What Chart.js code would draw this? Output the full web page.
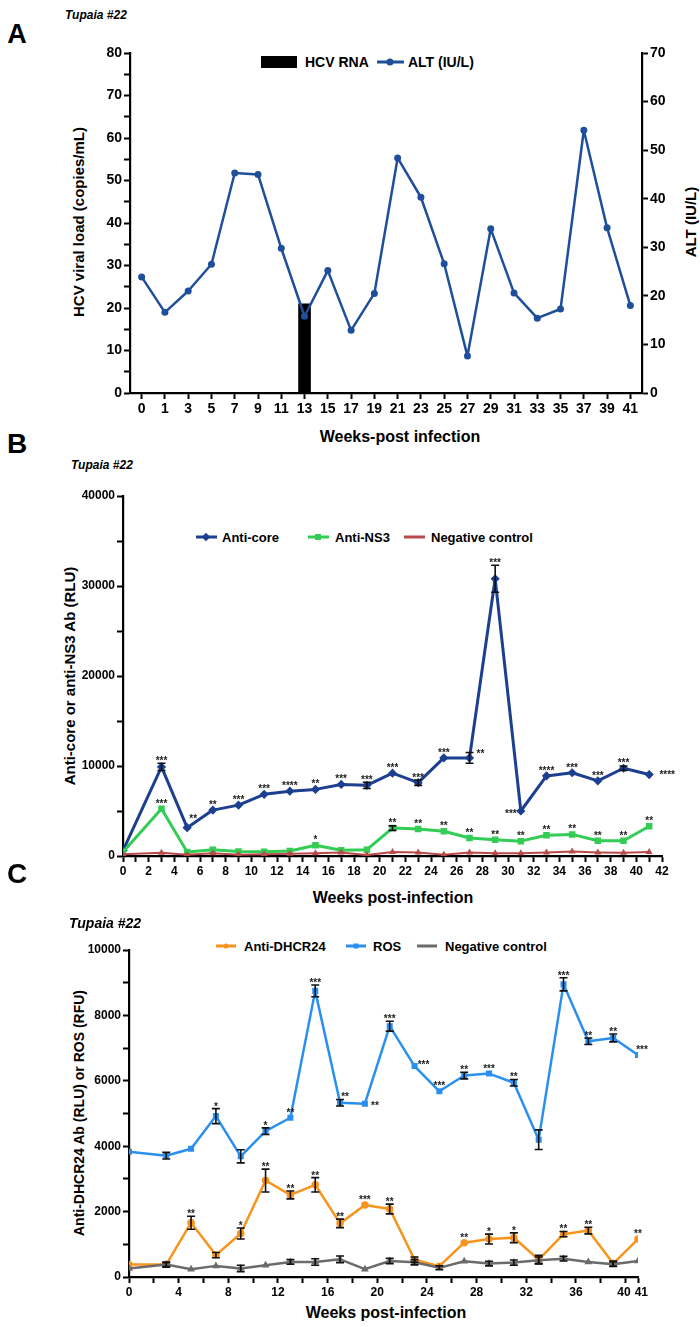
<!DOCTYPE html>
<html><head><meta charset="utf-8">
<script src="https://cdn.jsdelivr.net/npm/chart.js@4.4.0/dist/chart.umd.min.js"></script>
<style>
body{margin:0;background:#fff;width:700px;height:1327px;position:relative;overflow:hidden;font-family:"Liberation Sans",Arial,sans-serif;font-weight:bold;color:#000}
canvas{position:absolute;left:0}
.t{position:absolute;white-space:nowrap;line-height:1}
.c{transform:translate(-50%,-50%)}
.v{transform:translate(-50%,-50%) rotate(-90deg)}
.lt{transform:translateY(-50%)}
.mk{position:absolute;height:3px;transform:translateY(-50%)}
.dot{position:absolute;width:7px;height:7px;border-radius:50%;transform:translate(-50%,-50%)}
.sq{position:absolute;width:6px;height:6px;transform:translate(-50%,-50%)}
</style></head>
<body>
<!-- Panel A -->
<div class="t c" style="left:17px;top:34px;font-size:27px">A</div>
<div class="t lt" style="left:65px;top:15px;font-size:12px;font-style:italic">Tupaia #22</div>
<div class="t" style="left:261px;top:56px;width:36px;height:12px;background:#000"></div>
<div class="t lt" style="left:305px;top:62px;font-size:14px">HCV RNA</div>
<div class="mk" style="left:377px;top:62px;width:27px;background:#1f4f9a"></div>
<div class="dot" style="left:390px;top:62px;background:#1f4f9a"></div>
<div class="t lt" style="left:408px;top:62px;font-size:14px">ALT (IU/L)</div>
<div class="t v" style="left:78px;top:222px;font-size:15px">HCV viral load (copies/mL)</div>
<div class="t v" style="left:690px;top:222px;font-size:15px">ALT (IU/L)</div>
<div class="t c" style="left:400px;top:437px;font-size:16px">Weeks-post infection</div>
<canvas id="cA" width="700" height="420" style="top:0"></canvas>

<!-- Panel B -->
<div class="t c" style="left:17px;top:444px;font-size:28px">B</div>
<div class="t lt" style="left:71px;top:465px;font-size:12px;font-style:italic">Tupaia #22</div>
<div class="mk" style="left:196px;top:537px;width:21px;background:#1c3f8f"></div>
<div class="sq" style="left:206px;top:537px;background:#1c3f8f;transform:translate(-50%,-50%) rotate(45deg)"></div>
<div class="t lt" style="left:222px;top:537px;font-size:13px">Anti-core</div>
<div class="mk" style="left:308px;top:537px;width:21px;background:#33cc55"></div>
<div class="sq" style="left:318px;top:537px;background:#33cc55"></div>
<div class="t lt" style="left:335px;top:537px;font-size:13px">Anti-NS3</div>
<div class="mk" style="left:404px;top:537px;width:21px;background:#b84a4a"></div>
<div class="t lt" style="left:431px;top:537px;font-size:13px">Negative control</div>
<div class="t v" style="left:69px;top:676px;font-size:15px">Anti-core or anti-NS3 Ab (RLU)</div>
<div class="t c" style="left:393px;top:898px;font-size:16px">Weeks post-infection</div>
<canvas id="cB" width="700" height="420" style="top:460px"></canvas>

<!-- Panel C -->
<div class="t c" style="left:17px;top:874px;font-size:28px">C</div>
<div class="t lt" style="left:69px;top:923px;font-size:14px;font-style:italic">Tupaia #22</div>
<div class="mk" style="left:216px;top:946px;width:20px;background:#f7941d"></div>
<div class="dot" style="left:226px;top:946px;background:#f7941d;width:5px;height:5px"></div>
<div class="t lt" style="left:244px;top:946px;font-size:13px">Anti-DHCR24</div>
<div class="mk" style="left:346px;top:946px;width:20px;background:#2b8ff0"></div>
<div class="sq" style="left:356px;top:946px;background:#2b8ff0;width:5px;height:5px"></div>
<div class="t lt" style="left:373px;top:946px;font-size:13px">ROS</div>
<div class="mk" style="left:417px;top:946px;width:20px;background:#6b6b6b"></div>
<div class="t lt" style="left:445px;top:946px;font-size:13px">Negative control</div>
<div class="t v" style="left:79px;top:1113px;font-size:14px">Anti-DHCR24 Ab (RLU) or ROS (RFU)</div>
<div class="t c" style="left:386px;top:1313px;font-size:16px">Weeks post-infection</div>
<canvas id="cC" width="700" height="427" style="top:900px"></canvas>

<script>
// ---------- Panel A data ----------
const weeksA = ['0','1','3','5','7','9','11','13','15','17','19','21','23','25','27','29','31','33','35','37','39','41'];
const hcvRnaA = [null,null,null,null,null,null,null,21,null,null,null,null,null,null,null,null,null,null,null,null,null,null];
const altA = [23.9,16.6,21.0,26.5,45.3,45.0,29.8,15.8,25.2,12.9,20.5,48.4,40.3,26.6,7.6,33.8,20.6,15.4,17.3,54.1,34.0,18.0];

// ---------- Panel B data ----------
const weeksB = [0,3,5,7,9,11,13,15,17,19,21,23,25,27,29,31,33,35,37,39,41];
const antiCore = [600,9900,3150,5100,5650,6850,7200,7400,7950,7850,9200,8150,10900,10900,30800,5000,8900,9250,8350,9750,9050];
const antiCoreErr = [0,400,0,0,0,0,0,0,0,350,0,300,0,600,1500,0,0,0,0,250,0];
const antiCoreSig = ['','***','**','**','***','***','****','**','***','***','***','***','***','**','***','***','****','***','***','***','****'];
const antiNS3 = [450,5250,450,700,500,480,550,1200,630,700,3100,3000,2750,2000,1800,1650,2300,2400,1700,1700,3300];
const antiNS3Err = [0,0,0,0,0,0,0,0,0,0,250,0,0,0,0,0,0,0,0,0,0];
const antiNS3Sig = ['','***','','','','','','*','','','**','**','**','**','**','**','**','**','**','**','**'];
const negB = [200,350,150,300,150,200,250,300,400,100,450,400,150,400,300,300,400,500,400,350,450];

// ---------- Panel C data ----------
const weeksC = [0,3,5,7,9,11,13,15,17,19,21,23,25,27,29,31,33,35,37,39,41];
const dhcr24 = [380,380,1660,670,1330,2950,2510,2820,1640,2200,2080,530,330,1050,1160,1200,530,1310,1420,410,1160];
const dhcr24Err = [0,60,200,80,170,350,120,220,130,0,150,80,0,0,150,150,130,80,100,80,0];
const dhcr24Sig = ['','','**','','*','**','**','**','**','***','**','','','**','*','*','','**','**','','**'];
const ros = [3830,3710,3920,4920,3690,4460,4870,8750,5330,5300,7670,6450,5680,6160,6220,5940,4200,8950,7210,7310,6790];
const rosErr = [0,100,0,230,200,100,0,180,100,0,150,0,0,100,0,100,300,200,100,120,0];
const rosSig = ['','','','*','','*','**','***','**','**','***','***','***','**','***','**','','***','**','**','***'];
const negC = [260,380,240,340,260,360,460,460,540,240,490,450,280,480,410,440,510,560,460,390,490];
const negCErr = [0,80,0,0,100,0,70,100,100,0,80,80,60,0,70,80,100,70,0,70,0];
const cXTicks = [0,2,4,6,8,10,12,14,16,18,20,22,24,26,28,30,32,34,36,38,40,41];
const cXLabeled = [0,4,8,12,16,20,24,28,32,36,40,41];

Chart.defaults.font.family = '"Liberation Sans", Arial, sans-serif';
Chart.defaults.font.weight = 'bold';
Chart.defaults.color = '#000';

const pts = (xs, ys) => xs.map((x, i) => ({x: x, y: ys[i]}));

const errPlugin = {
  id: 'errstars',
  afterDatasetsDraw(chart) {
    const ctx = chart.ctx;
    const o = chart.options.plugins.errstars || {};
    chart.data.datasets.forEach((ds, i) => {
      const meta = chart.getDatasetMeta(i);
      const ys = chart.scales[meta.yAxisID];
      const errs = ds.errs || [];
      const sig = ds.sig || [];
      const offs = ds.starOff || {};
      meta.data.forEach((pt, j) => {
        const raw = ds.data[j];
        const v = (raw && typeof raw === 'object') ? raw.y : raw;
        if (v == null) return;
        let top = pt.y;
        const e = errs[j] || 0;
        if (e) {
          const y1 = ys.getPixelForValue(v + e), y2 = ys.getPixelForValue(v - e);
          ctx.save();
          ctx.strokeStyle = '#111'; ctx.lineWidth = 1.6;
          ctx.beginPath();
          ctx.moveTo(pt.x, y1); ctx.lineTo(pt.x, y2);
          ctx.moveTo(pt.x - 4, y1); ctx.lineTo(pt.x + 4, y1);
          ctx.moveTo(pt.x - 4, y2); ctx.lineTo(pt.x + 4, y2);
          ctx.stroke();
          ctx.restore();
          top = y1;
        }
        const s = sig[j];
        if (s) {
          const off = offs[j] || [0, 0];
          ctx.save();
          ctx.fillStyle = '#222';
          ctx.font = 'bold ' + (o.size || 10) + 'px "Liberation Sans", Arial, sans-serif';
          ctx.textAlign = 'center';
          ctx.textBaseline = 'alphabetic';
          ctx.fillText(s, pt.x + off[0], Math.min(top, pt.y - 3) + 1 + off[1]);
          ctx.restore();
        }
      });
    });
  }
};

function axisGrid() {
  return {display: true, drawOnChartArea: false, offset: false, tickLength: 6, tickColor: '#000', tickWidth: 2};
}
const border = {display: true, color: '#000', width: 2.2};

// ---------- Chart A ----------
new Chart(document.getElementById('cA'), {
  type: 'bar',
  data: {
    labels: weeksA,
    datasets: [
      {type: 'line', label: 'ALT (IU/L)', data: altA, yAxisID: 'y2', borderColor: '#1f4f9a', backgroundColor: '#1f4f9a',
       borderWidth: 2.5, borderJoinStyle: 'round', pointRadius: 3.5, pointBorderWidth: 0, tension: 0, order: 0},
      {type: 'bar', label: 'HCV RNA', data: hcvRnaA, yAxisID: 'y', backgroundColor: '#000', barThickness: 12, order: 1}
    ]
  },
  options: {
    responsive: false, animation: false, events: [],
    layout: {padding: {top: 53, left: 0, right: 0, bottom: 0}},
    plugins: {legend: {display: false}, tooltip: {enabled: false}},
    scales: {
      x: {type: 'category', offset: true, grid: axisGrid(), border: border,
          ticks: {font: {size: 14, weight: 'bold'}, padding: 2, autoSkip: false, maxRotation: 0},
          afterFit: s => { s.height = 420 - 393; }},
      y: {position: 'left', min: 0, max: 80, grid: axisGrid(), border: border,
          ticks: {stepSize: 5, font: {size: 14, weight: 'bold'}, padding: 2, callback: v => (v % 10 === 0 ? v : '')},
          afterFit: s => { s.width = 130; }},
      y2: {position: 'right', min: 0, max: 70, grid: axisGrid(), border: border,
          ticks: {stepSize: 10, font: {size: 14, weight: 'bold'}, padding: 2},
          afterFit: s => { s.width = 58; }}
    }
  }
});

// ---------- Chart B ----------
new Chart(document.getElementById('cB'), {
  type: 'line',
  data: {
    datasets: [
      {label: 'Negative control', data: pts(weeksB, negB), borderColor: '#b84a4a', backgroundColor: '#b84a4a',
       borderWidth: 2, borderJoinStyle: 'round', pointRadius: 2, pointStyle: 'triangle', tension: 0},
      {label: 'Anti-NS3', data: pts(weeksB, antiNS3), borderColor: '#33cc55', backgroundColor: '#33cc55',
       borderWidth: 3, borderJoinStyle: 'round', pointRadius: 2.5, pointStyle: 'rect', tension: 0, errs: antiNS3Err, sig: antiNS3Sig},
      {label: 'Anti-core', data: pts(weeksB, antiCore), borderColor: '#1c3f8f', backgroundColor: '#1c3f8f',
       borderWidth: 3, borderJoinStyle: 'round', pointRadius: 2.5, pointStyle: 'rectRot', tension: 0, errs: antiCoreErr, sig: antiCoreSig,
       starOff: {2: [6, -4], 13: [11, 3], 15: [-10, 8], 20: [18, 5]}}
    ]
  },
  options: {
    responsive: false, animation: false, events: [],
    layout: {padding: {top: 36, left: 0, right: 38, bottom: 0}},
    plugins: {legend: {display: false}, tooltip: {enabled: false}, errstars: {size: 10}},
    scales: {
      x: {type: 'linear', min: 0, max: 42, grid: axisGrid(), border: border,
          ticks: {stepSize: 1, autoSkip: false, maxRotation: 0, font: {size: 12, weight: 'bold'}, padding: 2,
                  callback: v => (v % 2 === 0 ? v : '')},
          afterFit: s => { s.height = 24; }},
      y: {min: 0, max: 40000, grid: axisGrid(), border: border,
          ticks: {stepSize: 5000, font: {size: 12, weight: 'bold'}, padding: 2, callback: v => (v % 10000 === 0 ? v : '')},
          afterFit: s => { s.width = 123; }}
    }
  },
  plugins: [errPlugin]
});

// ---------- Chart C ----------
new Chart(document.getElementById('cC'), {
  type: 'line',
  data: {
    datasets: [
      {label: 'Negative control', data: pts(weeksC, negC), borderColor: '#6b6b6b', backgroundColor: '#6b6b6b',
       borderWidth: 2.5, borderJoinStyle: 'round', pointRadius: 2, pointStyle: 'triangle', tension: 0, errs: negCErr},
      {label: 'Anti-DHCR24', data: pts(weeksC, dhcr24), borderColor: '#f7941d', backgroundColor: '#f7941d',
       borderWidth: 2.5, borderJoinStyle: 'round', pointRadius: 2.5, tension: 0, errs: dhcr24Err, sig: dhcr24Sig},
      {label: 'ROS', data: pts(weeksC, ros), borderColor: '#2b8ff0', backgroundColor: '#2b8ff0',
       borderWidth: 2.5, borderJoinStyle: 'round', pointRadius: 2.5, pointStyle: 'rect', tension: 0, errs: rosErr, sig: rosSig,
       starOff: {8: [5, 0], 9: [10, 7], 11: [9, 4], 20: [4, 0]}}
    ]
  },
  options: {
    responsive: false, animation: false, events: [],
    layout: {padding: {top: 50, left: 0, right: 62, bottom: 0}},
    plugins: {legend: {display: false}, tooltip: {enabled: false}, errstars: {size: 10}},
    scales: {
      x: {type: 'linear', min: 0, max: 41, grid: axisGrid(), border: border,
          afterBuildTicks: s => { s.ticks = cXTicks.map(v => ({value: v})); },
          ticks: {autoSkip: false, maxRotation: 0, font: {size: 12, weight: 'bold'}, padding: 2,
                  callback: v => (cXLabeled.includes(v) ? (v === 41 ? '  41' : v === 40 ? '40 ' : String(v)) : '')},
          afterFit: s => { s.height = 50; }},
      y: {min: 0, max: 10000, grid: axisGrid(), border: border,
          ticks: {stepSize: 1000, font: {size: 12, weight: 'bold'}, padding: 2, callback: v => (v % 2000 === 0 ? v : '')},
          afterFit: s => { s.width = 129; }}
    }
  },
  plugins: [errPlugin]
});
</script>
</body></html>
